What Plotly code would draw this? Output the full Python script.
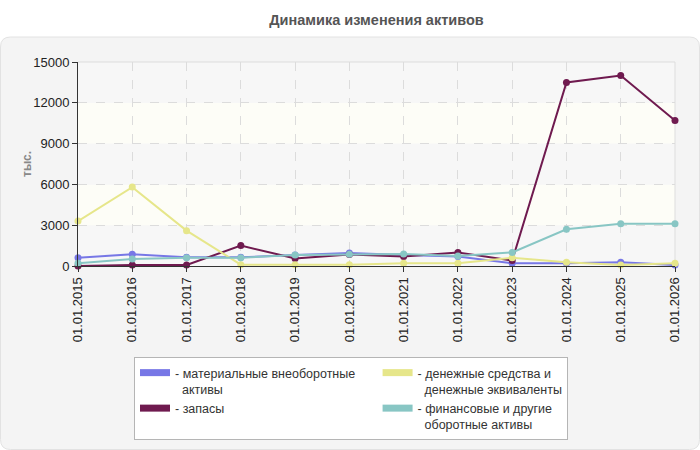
import plotly.graph_objects as go

dates = ["01.01.2015", "01.01.2016", "01.01.2017", "01.01.2018", "01.01.2019", "01.01.2020",
         "01.01.2021", "01.01.2022", "01.01.2023", "01.01.2024", "01.01.2025", "01.01.2026"]

material = [610, 860, 640, 640, 800, 950, 800, 690, 200, 200, 270, 70]
zapasy = [0, 70, 70, 1500, 560, 850, 690, 1000, 400, 13500, 14000, 10700]
money = [3300, 5800, 2600, 100, 100, 100, 200, 200, 600, 270, 70, 200]
finance = [200, 510, 610, 610, 800, 860, 880, 740, 1000, 2700, 3100, 3100]

names = ["материальные внеоборотные&nbsp;&nbsp;&nbsp;&nbsp;&nbsp;<br>&nbsp;&nbsp;активы",
         "запасы",
         "денежные средства и<br>&nbsp;&nbsp;денежные эквиваленты",
         "финансовые и другие<br>&nbsp;&nbsp;оборотные активы"]
colors = ["#7777e6", "#6f1a4f", "#e6e68a", "#88c6c4"]
series = [material, zapasy, money, finance]
ranks = [1, 3, 2, 4]

yticks = [0, 3000, 6000, 9000, 12000, 15000]
yticklabels = ["0", "3000", "6000", "9000", "12000", "15000"]

fig = go.Figure()

for vals, col in zip(series, colors):
    fig.add_trace(go.Scatter(
        x=list(range(len(dates))), y=vals, mode="lines+markers",
        line=dict(color=col, width=2), marker=dict(color=col, size=7),
        showlegend=False, cliponaxis=False, hoverinfo="skip"))

for name, col, rk in zip(names, colors, ranks):
    fig.add_trace(go.Scatter(
        x=[None], y=[None], mode="lines", name="- " + name,
        line=dict(color=col, width=7), legendrank=rk))

# plot-area geometry (pixels) for paper conversions
L, R, T, B = 78, 675, 62, 266
W, H = R - L, B - T
def px(x):
    return (x - L) / W
def py(y):
    return (B - y) / H

# container rounded rect
x0, x1, y0, y1 = px(0.5), px(699.5), py(37), py(449.5)
rx, ry = 10 / W, 10 / H
path = (f"M {x0+rx},{y0} L {x1-rx},{y0} Q {x1},{y0} {x1},{y0-ry} "
        f"L {x1},{y1+ry} Q {x1},{y1} {x1-rx},{y1} L {x0+rx},{y1} "
        f"Q {x0},{y1} {x0},{y1+ry} L {x0},{y0-ry} Q {x0},{y0} {x0+rx},{y0} Z")
shapes = [dict(type="path", xref="paper", yref="paper", path=path,
               fillcolor="#f4f4f4", line=dict(color="#e2e2e2", width=1), layer="below")]

# alternating background bands
for i in range(len(yticks) - 1):
    shapes.append(dict(type="rect", xref="paper", yref="y", x0=0, x1=1,
                       y0=yticks[i], y1=yticks[i + 1],
                       fillcolor="#f7f7f7" if i % 2 == 0 else "#fdfdf7",
                       line=dict(width=0), layer="below"))
# top and right plot borders
shapes.append(dict(type="line", xref="paper", yref="paper", x0=0, x1=1, y0=1, y1=1,
                   line=dict(color="#dddddd", width=1), layer="below"))
shapes.append(dict(type="line", xref="paper", yref="paper", x0=1, x1=1, y0=0, y1=1,
                   line=dict(color="#dddddd", width=1), layer="below"))

fig.update_layout(
    width=700, height=450,
    margin=dict(l=L, r=700 - R, t=T, b=450 - B, autoexpand=False),
    paper_bgcolor="white", plot_bgcolor="rgba(0,0,0,0)",
    font=dict(family="Liberation Sans, Arial, sans-serif", size=13, color="#333"),
    title=dict(text="<b>Динамика изменения активов</b>", x=0.5, xref="paper",
               xanchor="center", y=1 - 20 / 450, yanchor="middle", yref="container",
               font=dict(size=14.5, color="#555")),
    shapes=shapes,
    showlegend=True,
    legend=dict(orientation="h", x=px(134), y=py(357), xanchor="left", yanchor="top",
                bgcolor="white", bordercolor="#b5b5b5", borderwidth=1,
                valign="top", itemwidth=30, tracegroupgap=0,
                font=dict(size=12.5, color="#333")),
    annotations=[dict(text="<b>тыс.</b>", xref="paper", yref="paper", x=px(18), y=0.5,
                      textangle=-90, showarrow=False, font=dict(size=12, color="#888"))],
)

fig.update_xaxes(
    range=[0, len(dates) - 1], tickmode="array", tickvals=list(range(len(dates))),
    ticktext=dates, tickangle=-90, showline=True, linecolor="#333", linewidth=1,
    ticks="outside", ticklen=5, tickcolor="#333", showgrid=True, gridcolor="#dcdcdc",
    griddash="dash", zeroline=False, tickfont=dict(size=13, color="#222"))
fig.update_yaxes(
    range=[0, 15000], tickmode="array", tickvals=yticks, ticktext=yticklabels,
    showline=True, linecolor="#333",
    linewidth=1, ticks="outside", ticklen=5, tickcolor="#333", showgrid=True,
    gridcolor="#dcdcdc", griddash="dash", zeroline=False, tickfont=dict(size=13, color="#222"))

fig.write_html("out.html")
